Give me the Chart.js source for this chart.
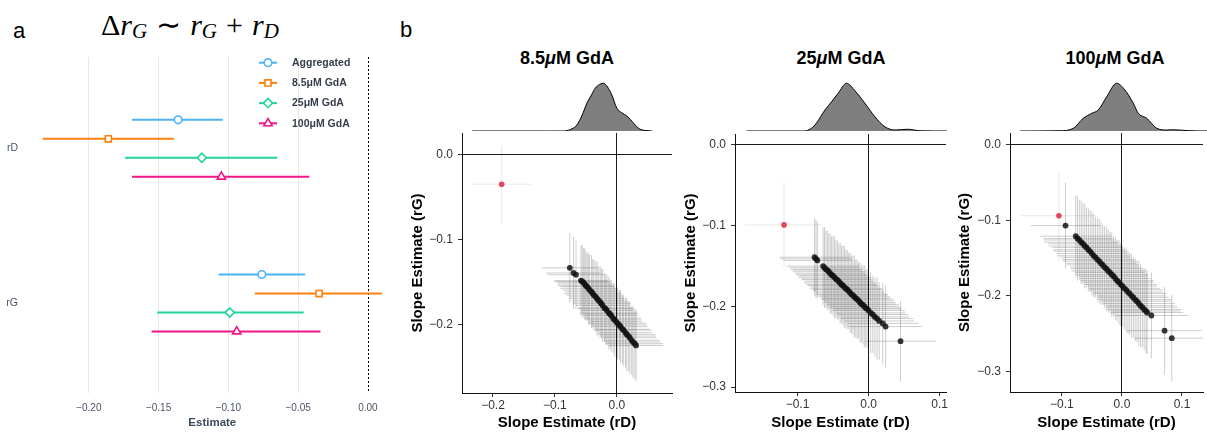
<!DOCTYPE html>
<html>
<head>
<meta charset="utf-8">
<script src="https://cdn.jsdelivr.net/npm/chart.js@4.4.1/dist/chart.umd.min.js"></script>
<style>
	body { margin: 0; background: #fff; font-family: 'Liberation Sans', Arial, sans-serif; }
	#fig { position: relative; width: 1207px; height: 432px; overflow: hidden; }
	#fig canvas, #fig .txt { position: absolute; }
	.tag { font-size: 22px; line-height: 22px; color: #000; }
	.formula { font-family: 'Liberation Serif', 'Times New Roman', serif; font-size: 30px; line-height: 30px; white-space: nowrap; }
	.formula sub { font-size: 21px; vertical-align: -3px; line-height: 0; }
	.formula .op { margin: 0 9px; font-style: normal; }
	.ptitle { font-weight: bold; font-size: 18px; line-height: 18px; width: 200px; text-align: center; white-space: nowrap; }
</style>
</head>
<body>
<div id="fig">
	<div class="txt tag" style="left:13px; top:20px;">a</div>
	<div class="txt tag" style="left:400px; top:19px;">b</div>
	<div class="txt formula" style="left:101px; top:10px;">Δ<i>r</i><sub><i>G</i></sub><span class="op">∼</span><i>r</i><sub><i>G</i></sub><span class="op">+</span><i>r</i><sub><i>D</i></sub></div>

	<canvas id="forest" width="405" height="387" style="left:0; top:45px;"></canvas>

	<div class="txt ptitle" style="left:467px; top:49px;">8.5<i>μ</i>M GdA</div>
	<div class="txt ptitle" style="left:741px; top:49px;">25<i>μ</i>M GdA</div>
	<div class="txt ptitle" style="left:1015px; top:49px;">100<i>μ</i>M GdA</div>

	<canvas id="dn85" width="210" height="51" style="left:462px; top:81px;"></canvas>
	<canvas id="dn25" width="212" height="51" style="left:735px; top:81px;"></canvas>
	<canvas id="dn100" width="197" height="51" style="left:1010px; top:81px;"></canvas>

	<canvas id="sc85" width="280" height="307" style="left:400px; top:125px;"></canvas>
	<canvas id="sc25" width="270" height="307" style="left:680px; top:125px;"></canvas>
	<canvas id="sc100" width="257" height="307" style="left:950px; top:125px;"></canvas>
</div>

<script>
// model terms and series
const terms = ['rD', 'rG'];
const seriesNames = ['Aggregated', '8.5μM GdA', '25μM GdA', '100μM GdA'];

// slope estimates and 95% intervals, [rD, rG]
const aggEst = [-0.136, -0.076];
const aggLo = [-0.169, -0.107];
const aggHi = [-0.104, -0.045];
const gda85Est = [-0.186, -0.035];
const gda85Lo = [-0.233, -0.081];
const gda85Hi = [-0.139, 0.010];
const gda25Est = [-0.119, -0.099];
const gda25Lo = [-0.174, -0.151];
const gda25Hi = [-0.065, -0.046];
const gda100Est = [-0.105, -0.094];
const gda100Lo = [-0.169, -0.155];
const gda100Hi = [-0.042, -0.034];

const estimateTicks = [-0.20, -0.15, -0.10, -0.05, 0.00];

// leave-one-out fits: [rD, rG, se rD, se rG]
const loo85 = [
	[-0.076, -0.133, 0.045, 0.041], [-0.070, -0.139, 0.044, 0.042], [-0.066, -0.141, 0.046, 0.040],
	[-0.058, -0.148, 0.043, 0.041], [-0.056, -0.149, 0.045, 0.043], [-0.054, -0.150, 0.042, 0.040],
	[-0.052, -0.152, 0.044, 0.042], [-0.050, -0.154, 0.046, 0.041], [-0.048, -0.155, 0.043, 0.039],
	[-0.046, -0.157, 0.045, 0.042], [-0.044, -0.159, 0.044, 0.041], [-0.041, -0.161, 0.042, 0.043],
	[-0.039, -0.163, 0.046, 0.040], [-0.037, -0.165, 0.045, 0.042], [-0.034, -0.167, 0.043, 0.041],
	[-0.032, -0.169, 0.044, 0.044], [-0.030, -0.171, 0.042, 0.040], [-0.027, -0.173, 0.045, 0.042],
	[-0.025, -0.175, 0.046, 0.041], [-0.023, -0.177, 0.043, 0.043], [-0.020, -0.180, 0.044, 0.040],
	[-0.018, -0.181, 0.045, 0.042], [-0.016, -0.183, 0.042, 0.041], [-0.013, -0.186, 0.046, 0.043],
	[-0.011, -0.187, 0.044, 0.040], [-0.009, -0.189, 0.043, 0.042], [-0.006, -0.192, 0.045, 0.041],
	[-0.004, -0.194, 0.044, 0.043], [-0.001, -0.196, 0.042, 0.040], [0.001, -0.198, 0.046, 0.042],
	[0.004, -0.200, 0.045, 0.041], [0.006, -0.202, 0.043, 0.043], [0.009, -0.205, 0.044, 0.040],
	[0.011, -0.206, 0.045, 0.042], [0.014, -0.209, 0.042, 0.041], [0.016, -0.211, 0.046, 0.043],
	[0.019, -0.213, 0.044, 0.041], [0.021, -0.215, 0.043, 0.042], [0.024, -0.218, 0.045, 0.040],
	[0.026, -0.220, 0.044, 0.042], [0.029, -0.222, 0.046, 0.041], [0.031, -0.224, 0.044, 0.042]
];
const loo25 = [
	[-0.076, -0.139, 0.049, 0.048], [-0.074, -0.141, 0.050, 0.049], [-0.072, -0.143, 0.048, 0.047],
	[-0.064, -0.150, 0.051, 0.048], [-0.062, -0.152, 0.049, 0.050], [-0.060, -0.154, 0.050, 0.048],
	[-0.058, -0.155, 0.048, 0.049], [-0.056, -0.157, 0.051, 0.047], [-0.054, -0.159, 0.049, 0.050],
	[-0.052, -0.161, 0.050, 0.048], [-0.050, -0.162, 0.048, 0.049], [-0.048, -0.164, 0.051, 0.051],
	[-0.046, -0.166, 0.049, 0.048], [-0.044, -0.167, 0.050, 0.049], [-0.042, -0.169, 0.048, 0.047],
	[-0.040, -0.171, 0.051, 0.050], [-0.038, -0.173, 0.049, 0.048], [-0.036, -0.174, 0.050, 0.049],
	[-0.034, -0.176, 0.048, 0.051], [-0.032, -0.178, 0.051, 0.048], [-0.030, -0.179, 0.049, 0.049],
	[-0.028, -0.181, 0.050, 0.047], [-0.026, -0.183, 0.048, 0.050], [-0.024, -0.185, 0.051, 0.048],
	[-0.022, -0.186, 0.049, 0.049], [-0.020, -0.188, 0.050, 0.051], [-0.018, -0.190, 0.048, 0.048],
	[-0.016, -0.191, 0.051, 0.049], [-0.014, -0.193, 0.049, 0.047], [-0.012, -0.195, 0.050, 0.050],
	[-0.010, -0.197, 0.048, 0.048], [-0.008, -0.198, 0.051, 0.049], [-0.006, -0.200, 0.049, 0.051],
	[-0.004, -0.202, 0.050, 0.048], [-0.002, -0.203, 0.048, 0.049], [0.000, -0.205, 0.051, 0.047],
	[0.003, -0.208, 0.049, 0.050], [0.006, -0.210, 0.050, 0.048], [0.009, -0.213, 0.048, 0.049],
	[0.012, -0.215, 0.051, 0.051], [0.015, -0.218, 0.049, 0.048], [0.020, -0.221, 0.050, 0.050],
	[0.024, -0.225, 0.051, 0.051], [0.045, -0.243, 0.050, 0.050]
];
const loo100 = [
	[-0.094, -0.107, 0.058, 0.057], [-0.077, -0.121, 0.060, 0.054], [-0.074, -0.124, 0.057, 0.056],
	[-0.071, -0.126, 0.059, 0.053], [-0.068, -0.129, 0.061, 0.055], [-0.065, -0.131, 0.058, 0.054],
	[-0.062, -0.134, 0.060, 0.056], [-0.059, -0.136, 0.057, 0.053], [-0.056, -0.139, 0.059, 0.055],
	[-0.053, -0.141, 0.061, 0.054], [-0.050, -0.144, 0.058, 0.056], [-0.047, -0.147, 0.060, 0.055],
	[-0.044, -0.149, 0.057, 0.053], [-0.041, -0.152, 0.059, 0.054], [-0.038, -0.154, 0.061, 0.056],
	[-0.035, -0.157, 0.058, 0.055], [-0.032, -0.159, 0.060, 0.053], [-0.029, -0.162, 0.057, 0.054],
	[-0.026, -0.164, 0.059, 0.056], [-0.023, -0.167, 0.061, 0.055], [-0.020, -0.169, 0.058, 0.054],
	[-0.017, -0.172, 0.060, 0.056], [-0.014, -0.174, 0.057, 0.053], [-0.011, -0.177, 0.059, 0.055],
	[-0.008, -0.180, 0.061, 0.054], [-0.005, -0.182, 0.058, 0.056], [-0.002, -0.185, 0.060, 0.055],
	[0.001, -0.187, 0.057, 0.053], [0.004, -0.190, 0.059, 0.054], [0.007, -0.192, 0.061, 0.056],
	[0.010, -0.195, 0.058, 0.055], [0.013, -0.197, 0.060, 0.054], [0.016, -0.200, 0.057, 0.056],
	[0.019, -0.202, 0.059, 0.053], [0.022, -0.205, 0.061, 0.055], [0.025, -0.207, 0.058, 0.054],
	[0.028, -0.210, 0.060, 0.056], [0.031, -0.213, 0.057, 0.055], [0.034, -0.215, 0.059, 0.053],
	[0.037, -0.218, 0.061, 0.054], [0.040, -0.220, 0.058, 0.056], [0.042, -0.222, 0.060, 0.055],
	[0.049, -0.226, 0.061, 0.057], [0.071, -0.246, 0.062, 0.058], [0.083, -0.256, 0.063, 0.057]
];

// density of leave-one-out rD estimates
const dens85X = [-0.2335, -0.110, -0.086, -0.075, -0.0645, -0.056, -0.0484, -0.041, -0.035, -0.028, -0.0216, -0.015, -0.0081, 0.000, 0.008, 0.016, 0.022, 0.027, 0.0376, 0.0565];
const dens85Y = [0, 0, 0, 0.6, 2.4, 6.4, 11.1, 14.4, 17.1, 18.6, 19.1, 17.6, 14.4, 9.1, 7.3, 6.0, 4.6, 3.1, 0.7, 0];
const dens25X = [-0.172, -0.105, -0.090, -0.076, -0.062, -0.0527, -0.0435, -0.0317, -0.020, -0.006, 0.008, 0.022, 0.036, 0.054, 0.071, 0.110];
const dens25Y = [0, 0, 0, 2.4, 8.4, 11.7, 15.1, 19.1, 16.1, 11.1, 5.7, 1.7, 0.4, 0.7, 0.1, 0];
const dens100X = [-0.170, -0.105, -0.083, -0.067, -0.053, -0.0424, -0.0287, -0.0124, 0.001, 0.0147, 0.0228, 0.0365, 0.053, 0.069, 0.080, 0.107, 0.135];
const dens100Y = [0, 0.1, 1.1, 5.1, 7.1, 8.4, 13.7, 19.1, 16.4, 11.1, 7.1, 5.1, 1.1, 0.4, 0.5, 0.1, 0];

const slopeTicks85X = [-0.2, -0.1, 0.0];
const slopeTicks85Y = [-0.2, -0.1, 0.0];
const slopeTicksX = [-0.1, 0.0, 0.1];
const slopeTicksY = [-0.3, -0.2, -0.1, 0.0];


Chart.defaults.font.family = "'Liberation Sans', Arial, sans-serif";
Chart.defaults.animation = false;

const fmt = (v, d) => (v < 0 ? '\u2212' : '') + Math.abs(v).toFixed(d);
const setTicks = (arr) => (scale) => { scale.ticks = arr.map(v => ({ value: v })); };
// fixed axis size, no extra room for labels at the ends
const fixHeight = (h) => (s) => { s.height = h; s.paddingLeft = 0; s.paddingRight = 0; };
const fixWidth = (w) => (s) => { s.width = w; s.paddingTop = 0; s.paddingBottom = 0; };


// ---------- a: forest plot ----------
const colors = ['#4cb3f7', '#ff800e', '#20d696', '#f0168a'];
const shapes = ['circle', 'rect', 'rectRot', 'triangle'];
const radii = [3.8, 4.3, 4.6, 4.8];
const dodge = [-0.184, -0.061, 0.061, 0.184];
const ests = [aggEst, gda85Est, gda25Est, gda100Est];
const los = [aggLo, gda85Lo, gda25Lo, gda100Lo];
const his = [aggHi, gda85Hi, gda25Hi, gda100Hi];

const forestData = {
	datasets: seriesNames.map((name, i) => ({
		label: name,
		data: terms.map((t, j) => ({ x: ests[i][j], y: j + 1 + dodge[i], lo: los[i][j], hi: his[i][j] })),
		pointStyle: shapes[i],
		pointRadius: radii[i],
		borderColor: colors[i],
		backgroundColor: '#fff',
		borderWidth: 1.6
	}))
};

// intervals, dashed zero line and the legend
const forestExtras = {
	id: 'forestExtras',
	beforeDatasetsDraw(chart) {
		const { ctx, chartArea, scales: { x, y } } = chart;
		ctx.save();
		const x0 = Math.round(x.getPixelForValue(0)) + 0.5;
		ctx.strokeStyle = '#000';
		ctx.lineWidth = 1;
		ctx.setLineDash([2, 2]);
		ctx.beginPath();
		ctx.moveTo(x0, chartArea.top);
		ctx.lineTo(x0, chartArea.bottom);
		ctx.stroke();
		ctx.setLineDash([]);
		ctx.lineWidth = 2;
		chart.data.datasets.forEach(ds => {
			ctx.strokeStyle = ds.borderColor;
			ds.data.forEach(p => {
				const py = y.getPixelForValue(p.y);
				ctx.beginPath();
				ctx.moveTo(x.getPixelForValue(p.lo), py);
				ctx.lineTo(x.getPixelForValue(p.hi), py);
				ctx.stroke();
			});
		});
		ctx.restore();
	},
	afterDraw(chart) {
		const { ctx } = chart;
		ctx.save();
		chart.data.datasets.forEach((ds, i) => {
			const ly = 17.7 + i * 20.2;
			ctx.strokeStyle = ds.borderColor;
			ctx.lineWidth = 2;
			ctx.beginPath();
			ctx.moveTo(259, ly);
			ctx.lineTo(277, ly);
			ctx.stroke();
			ctx.fillStyle = '#fff';
			ctx.lineWidth = 1.6;
			Chart.helpers.drawPoint(ctx, { pointStyle: ds.pointStyle, radius: ds.pointRadius, rotation: 0, borderWidth: 1.6 }, 268, ly);
			ctx.fillStyle = '#353e4e';
			ctx.font = "bold 10.5px 'Liberation Sans', Arial, sans-serif";
			ctx.textBaseline = 'middle';
			ctx.fillText(ds.label, 292, ly + 0.5);
		});
		ctx.restore();
	}
};

new Chart(document.getElementById('forest'), {
	type: 'scatter',
	data: forestData,
	options: {
		responsive: false,
		layout: { padding: { top: 12, right: 5, left: 0, bottom: 0 } },
		plugins: { legend: { display: false }, tooltip: { enabled: false } },
		scales: {
			x: {
				type: 'linear', min: -0.245, max: 0.022,
				afterBuildTicks: setTicks(estimateTicks),
				afterFit: fixHeight(39.3),
				grid: { drawTicks: false, color: c => c.tick && c.tick.value === 0 ? 'rgba(0,0,0,0)' : '#e8e8e8' },
				border: { display: false },
				ticks: { color: '#4a5467', font: { size: 10 }, padding: 10, callback: v => fmt(v, 2) },
				title: { display: true, text: 'Estimate', color: '#3b4a5e', font: { size: 11.5, weight: 'bold' }, padding: { top: 0, bottom: 2 } }
			},
			y: {
				type: 'linear', reverse: true, min: 0.41, max: 2.58,
				afterBuildTicks: setTicks([1, 2]),
				afterFit: fixWidth(26),
				grid: { display: false, drawTicks: false },
				border: { display: false },
				ticks: { color: '#4a5467', font: { size: 10.5 }, padding: 8, callback: v => terms[v - 1] }
			}
		}
	},
	plugins: [forestExtras]
});


// ---------- b: leave-one-out slope panels ----------
const errorBars = {
	id: 'errorBars',
	beforeDatasetsDraw(chart) {
		const { ctx, chartArea, scales: { x, y } } = chart;
		ctx.save();
		ctx.beginPath();
		ctx.rect(chartArea.left, chartArea.top, chartArea.right - chartArea.left, chartArea.bottom - chartArea.top);
		ctx.clip();
		ctx.lineWidth = 1;
		chart.data.datasets.forEach(ds => {
			ctx.strokeStyle = ds.barColor;
			ds.data.forEach(p => {
				const px = x.getPixelForValue(p.x), py = y.getPixelForValue(p.y);
				ctx.beginPath();
				ctx.moveTo(x.getPixelForValue(p.xlo), py);
				ctx.lineTo(x.getPixelForValue(p.xhi), py);
				ctx.moveTo(px, y.getPixelForValue(p.ylo));
				ctx.lineTo(px, y.getPixelForValue(p.yhi));
				ctx.stroke();
			});
		});
		ctx.restore();
	}
};

function slopePanel(id, loo, est, lo, hi, xr, yr, xTicks, yTicks, box) {
	const looPts = loo.map(r => ({ x: r[0], y: r[1], xlo: r[0] - r[2], xhi: r[0] + r[2], ylo: r[1] - r[3], yhi: r[1] + r[3] }));
	const aggPt = [{ x: est[0], y: est[1], xlo: lo[0], xhi: hi[0], ylo: lo[1], yhi: hi[1] }];
	const zeroLine = c => c.tick && c.tick.value === 0 ? '#1a1a1a' : 'rgba(0,0,0,0)';
	return new Chart(document.getElementById(id), {
		type: 'scatter',
		data: {
			datasets: [
				{ data: aggPt, pointRadius: 2.8, backgroundColor: '#e4475d', borderWidth: 0, barColor: 'rgba(0,0,0,0.09)', order: 0 },
				{ data: looPts, pointRadius: 2.9, backgroundColor: 'rgba(20,20,20,0.85)', borderWidth: 0, barColor: 'rgba(0,0,0,0.2)', order: 1 }
			]
		},
		options: {
			responsive: false,
			layout: { padding: { top: box.top, right: box.right, left: 0, bottom: 0 } },
			plugins: { legend: { display: false }, tooltip: { enabled: false } },
			scales: {
				x: {
					type: 'linear', min: xr[0], max: xr[1],
					afterBuildTicks: setTicks(xTicks),
					afterFit: fixHeight(box.xh),
					grid: { color: zeroLine, tickColor: '#333', tickLength: 4, lineWidth: 1 },
					border: { display: true, color: '#111', width: 1 },
					ticks: { color: '#333', font: { size: 12 }, padding: 1, callback: v => fmt(v, 1) },
					title: { display: true, text: 'Slope Estimate (rD)', color: '#000', font: { size: 15, weight: 'bold' }, padding: { top: 0, bottom: 0 } }
				},
				y: {
					type: 'linear', min: yr[0], max: yr[1],
					afterBuildTicks: setTicks(yTicks),
					afterFit: fixWidth(box.yw),
					grid: { color: zeroLine, tickColor: '#333', tickLength: 4, lineWidth: 1 },
					border: { display: true, color: '#111', width: 1 },
					ticks: { color: '#333', font: { size: 12 }, padding: 5, callback: v => fmt(v, 1) },
					title: { display: true, text: 'Slope Estimate (rG)', color: '#000', font: { size: 15, weight: 'bold' }, padding: { top: box.tp, bottom: 0 } }
				}
			}
		},
		plugins: [errorBars]
	});
}

function densityPanel(id, xs, ys, xr) {
	return new Chart(document.getElementById(id), {
		type: 'scatter',
		data: {
			datasets: [{
				data: xs.map((v, i) => ({ x: v, y: ys[i] })),
				showLine: true,
				fill: 'origin',
				backgroundColor: '#7f7f7f',
				borderColor: '#000',
				borderWidth: 1,
				pointRadius: 0,
				cubicInterpolationMode: 'monotone'
			}]
		},
		options: {
			responsive: false,
			layout: { padding: { top: 0, right: 0, left: 0, bottom: 1 } },
			plugins: { legend: { display: false }, tooltip: { enabled: false } },
			scales: {
				x: { type: 'linear', display: false, min: xr[0], max: xr[1] },
				y: { type: 'linear', display: false, min: 0, max: 20 }
			}
		}
	});
}

const xr85 = [-0.25, 0.089], yr85 = [-0.2797, 0.025];
const xr25 = [-0.188, 0.109], yr25 = [-0.306, 0.0136];
const xr100 = [-0.1865, 0.135], yr100 = [-0.3272, 0.0155];

slopePanel('sc85', loo85, gda85Est, gda85Lo, gda85Hi, xr85, yr85, slopeTicks85X, slopeTicks85Y, { top: 8, right: 8, xh: 39, yw: 62, tp: 9 });
slopePanel('sc25', loo25, gda25Est, gda25Lo, gda25Hi, xr25, yr25, slopeTicksX, slopeTicksY, { top: 9, right: 3, xh: 40, yw: 55, tp: 2 });
slopePanel('sc100', loo100, gda100Est, gda100Lo, gda100Hi, xr100, yr100, slopeTicksX, slopeTicksY, { top: 8, right: 0, xh: 40, yw: 60, tp: 6 });

densityPanel('dn85', dens85X, dens85Y, xr85);
densityPanel('dn25', dens25X, dens25Y, xr25);
densityPanel('dn100', dens100X, dens100Y, xr100);
</script>
</body>
</html>
